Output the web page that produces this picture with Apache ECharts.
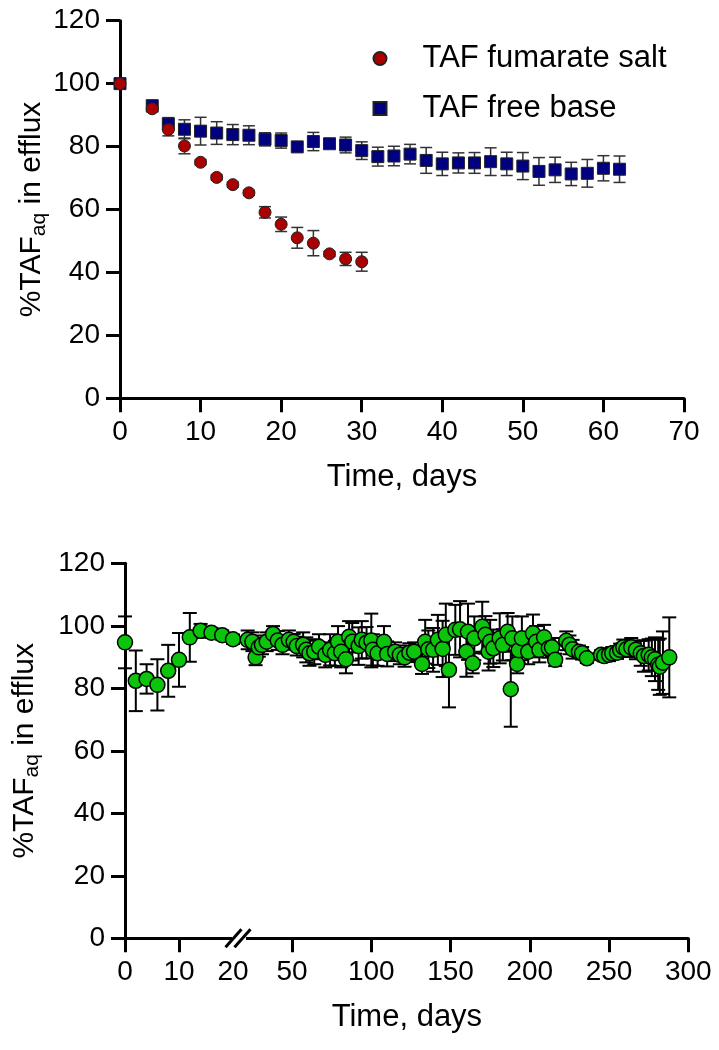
<!DOCTYPE html>
<html>
<head>
<meta charset="utf-8">
<script src="https://cdn.jsdelivr.net/npm/echarts@6/dist/echarts.min.js"></script>
<style>html,body{margin:0;padding:0;background:#fff;}#c{width:719px;height:1050px;}</style>
</head>
<body>
<div id="c"></div>
<script>
// ---- Top panel data ----
const saltDays = [0,4,6,8,10,12,14,16,18,20,22,24,26,28,30];
const saltMean = [100,92.0,85.4,80.2,75.0,70.2,67.9,65.3,59.1,55.3,51.0,49.3,45.9,44.3,43.4];
const saltErr  = [0.5,1.0,2.0,2.5,0.8,0.8,0.8,0.8,1.8,2.3,3.3,4.0,0.8,2.1,3.0];

const baseDays = [0,4,6,8,10,12,14,16,18,20,22,24,26,28,30,32,34,36,38,40,42,44,46,48,50,52,54,56,58,60,62];
const baseMean = [100,93.0,87.2,85.5,84.9,84.3,83.8,83.6,82.3,81.9,79.9,81.6,80.9,80.5,78.7,76.8,77.0,77.6,75.6,74.5,74.8,74.8,75.2,74.5,73.8,72.1,72.6,71.3,71.5,73.1,72.8];
const baseErr  = [0.5,1.0,2.0,3.0,4.4,3.6,3.2,3.0,2.1,2.4,0.8,2.9,1.5,2.5,2.8,3.0,3.1,3.1,4.1,3.7,3.2,3.3,4.4,3.7,4.3,4.4,4.0,3.7,4.4,4.0,4.2];

// ---- Bottom panel data ----
const longDays = [0,2,4,6,8,10,12,14,16,18,20,
  22,25,27,29,31,34,38,41,44,48,51,53,57,59,61,64,67,71,74,77,79,81,84,86,88,92,94,97,100,101,
  104,108,110,115,118,121,124,127,132,134,136,139,142,145,147,149,153,156,160,161,164,165,170,172,
  174,175,177,181,183,186,188,189,192,193,195,199,202,204,206,209,212,214,216,223,225,227,231,233,236,
  245,247,250,252,255,257,259,261,264,267,270,272,275,277,279,281,282,284,288];
const longMean = [94.7,82.4,83.0,81.1,85.6,89.1,96.3,98.4,97.8,97.0,95.7,
  95.5,94.9,89.9,93.1,93.9,94.9,97.4,95.3,93.9,95.5,94.9,93.5,93.9,92.3,91.2,91.7,93.3,90.7,92.3,91.2,94.9,91.7,89.3,96.5,94.9,93.5,95.5,94.6,95.3,92.3,
  91.2,94.9,91.0,91.7,90.7,89.9,91.4,91.7,87.8,94.9,92.5,92.3,95.5,92.6,97.1,85.9,98.7,98.9,91.7,98.1,88.0,96.0,99.7,97.1,
  91.7,94.9,92.8,96.0,93.9,98.1,79.7,96.0,87.8,92.2,96.0,91.7,97.6,94.9,92.3,96.3,92.8,93.1,89.1,95.2,93.9,92.5,91.7,91.2,89.6,
  90.7,90.3,90.7,91.2,91.4,92.3,93.1,92.5,93.1,92.3,91.2,90.3,90.7,89.9,89.3,87.5,86.9,88.2,89.9];
const longErr = [8.3,9.7,4.7,8.2,8.3,8.6,7.8,2.2,1.5,1.5,1.5,
  3,3,2.5,3,3,3,2.5,3,3,3,2.5,3,4,4,4,4,4,4,5,4,5,5,4.5,5,6,6,6,5,8.6,5,
  4,5,4,3,3,3,3,3,3.2,7,6,7,8,9,10,12,8,9,8,9,3.2,7,8,6,
  6,7,6,8,5,6,12,7,3,4,7,4,6,5,4,4,3,3,2,3,3,3,2,2,1.5,
  1.5,1.5,2,2,2,2,2.5,2.5,3,3,4,5,5,6,7,8,9,10,12.8];

const yTicks = [0,20,40,60,80,100,120];
const topXTicks = [0,10,20,30,40,50,60,70];
const longTicksA = [0,10];
const longLabelsA = [0,10,20];
const longTicksB = [50,100,150,200,250,300];

const FONT = "'Liberation Sans', Arial, sans-serif";

function zip3(a,b,c){ return a.map((v,i)=>[v,b[i],c[i]]); }

function errRender(capW, color, lw){
  return function(params, api){
    const x = api.value(0), m = api.value(1), e = api.value(2);
    const t = api.coord([x, m + e]);
    const b = api.coord([x, m - e]);
    const style = {stroke: color, lineWidth: lw};
    return {type:'group', children:[
      {type:'line', shape:{x1:t[0],y1:t[1],x2:b[0],y2:b[1]}, style},
      {type:'line', shape:{x1:t[0]-capW/2,y1:t[1],x2:t[0]+capW/2,y2:t[1]}, style},
      {type:'line', shape:{x1:b[0]-capW/2,y1:b[1],x2:b[0]+capW/2,y2:b[1]}, style}
    ]};
  };
}

const axisCommon = {
  axisLine:{show:true, lineStyle:{color:'#000', width:3}},
  axisTick:{show:true, inside:false, length:14, lineStyle:{color:'#000', width:3}},
  axisLabel:{color:'#000', fontSize:28, fontFamily:FONT, margin:20},
  splitLine:{show:false}
};

const yName = '{a|%TAF}{s|aq}{a| in efflux}';
const yNameStyle = {
  rich:{
    a:{fontSize:30, fontFamily:FONT, color:'#000', lineHeight:36, verticalAlign:'middle'},
    s:{fontSize:21, fontFamily:FONT, color:'#000', lineHeight:20, verticalAlign:'bottom', padding:[12,0,0,0]}
  }
};
const xNameStyle = {fontSize:31, fontFamily:FONT, color:'#000'};

const longAll = zip3(longDays, longMean, longErr);
const longA = longAll.filter(d => d[0] <= 20);
const longB = longAll.filter(d => d[0] > 20);

const option = {
  animation:false,
  backgroundColor:'#fff',
  legend:{
    orient:'vertical', left:367.5, top:38,
    itemWidth:13, itemHeight:13, itemGap:19,
    textStyle:{fontSize:31, fontFamily:FONT, color:'#000', padding:[0,0,0,31]},
    data:[{name:'TAF fumarate salt', icon:'circle'},{name:'TAF free base', icon:'rect'}]
  },
  grid:[
    {left:120, right:35, top:20.7, bottom:651.7, containLabel:false},
    {left:125, width:108, top:563.3, bottom:111.7, containLabel:false},
    {left:244.5, width:443.8, top:563.3, bottom:111.7, containLabel:false}
  ],
  xAxis:[
    Object.assign({}, axisCommon, {gridIndex:0, type:'value', min:topXTicks[0], max:topXTicks[topXTicks.length-1], interval:10,
      name:'Time, days', nameLocation:'middle', nameGap:64, nameMoveOverlap:false, nameTextStyle:xNameStyle}),
    Object.assign({}, axisCommon, {gridIndex:1, type:'value', min:0, max:20,
      axisTick:Object.assign({}, axisCommon.axisTick, {customValues:longTicksA}),
      axisLabel:Object.assign({}, axisCommon.axisLabel, {customValues:longLabelsA})}),
    Object.assign({}, axisCommon, {gridIndex:2, type:'value', min:20, max:300,
      axisTick:Object.assign({}, axisCommon.axisTick, {customValues:longTicksB}),
      axisLabel:Object.assign({}, axisCommon.axisLabel, {customValues:longTicksB}),
      name:'Time, days', nameLocation:'middle', nameGap:64, nameMoveOverlap:false,
      nameTextStyle:Object.assign({}, xNameStyle, {padding:[0,119,0,0]})})
  ],
  yAxis:[
    Object.assign({}, axisCommon, {gridIndex:0, type:'value', min:yTicks[0], max:yTicks[yTicks.length-1], interval:20,
      name:yName, nameLocation:'middle', nameGap:70, nameMoveOverlap:false, nameRotate:90, nameTextStyle:yNameStyle}),
    Object.assign({}, axisCommon, {gridIndex:1, type:'value', min:yTicks[0], max:yTicks[yTicks.length-1], interval:20,
      name:yName, nameLocation:'middle', nameGap:82, nameMoveOverlap:false, nameRotate:90, nameTextStyle:yNameStyle}),
    {gridIndex:2, type:'value', min:0, max:120, show:false}
  ],
  series:[
    {type:'custom', name:'errBase', xAxisIndex:0, yAxisIndex:0, data:zip3(baseDays, baseMean, baseErr),
      renderItem:errRender(12,'#333',1.5), encode:{x:0,y:1}, z:1, clip:false},
    {type:'custom', name:'errSalt', xAxisIndex:0, yAxisIndex:0, data:zip3(saltDays, saltMean, saltErr),
      renderItem:errRender(12,'#333',1.5), encode:{x:0,y:1}, z:1, clip:false},
    {type:'scatter', name:'TAF free base', xAxisIndex:0, yAxisIndex:0, symbol:'rect', symbolSize:12, clip:false,
      data:baseDays.map((d,i)=>[d, baseMean[i]]),
      itemStyle:{color:'#000080', borderColor:'#222', borderWidth:1, opacity:1}, z:3},
    {type:'scatter', name:'TAF fumarate salt', xAxisIndex:0, yAxisIndex:0, symbol:'circle', symbolSize:12, clip:false,
      data:saltDays.map((d,i)=>[d, saltMean[i]]),
      itemStyle:{color:'#AA0000', borderColor:'#222', borderWidth:1, opacity:1}, z:4},
    {type:'custom', name:'errA', xAxisIndex:1, yAxisIndex:1, data:longA,
      renderItem:errRender(14,'#000',2), encode:{x:0,y:1}, z:1, clip:false},
    {type:'custom', name:'errB', xAxisIndex:2, yAxisIndex:2, data:longB,
      renderItem:errRender(14,'#000',2), encode:{x:0,y:1}, z:1, clip:false},
    {type:'scatter', name:'longA', xAxisIndex:1, yAxisIndex:1, symbol:'circle', symbolSize:15, clip:false,
      data:longA.map(d=>[d[0],d[1]]),
      itemStyle:{color:'#0CC40C', borderColor:'#000', borderWidth:1.5, opacity:1}, z:3},
    {type:'scatter', name:'longB', xAxisIndex:2, yAxisIndex:2, symbol:'circle', symbolSize:15, clip:false,
      data:longB.map(d=>[d[0],d[1]]),
      itemStyle:{color:'#0CC40C', borderColor:'#000', borderWidth:1.5, opacity:1}, z:3}
  ]
};

const chart = echarts.init(document.getElementById('c'), null, {renderer:'canvas'});
chart.setOption(option);

// axis-break marks between the two bottom segments
const pEnd = chart.convertToPixel({xAxisIndex:1, yAxisIndex:1}, [20, 0]);
const slash = (cx, cy) => ({type:'line', shape:{x1:cx-8, y1:cy+9, x2:cx+8, y2:cy-9},
  style:{stroke:'#000', lineWidth:3}, z:10});
chart.setOption({graphic:[
  {type:'rect', shape:{x:pEnd[0]-1, y:pEnd[1]-3, width:14, height:6}, style:{fill:'#fff'}, z:9},
  slash(pEnd[0]+0.5, pEnd[1]),
  slash(pEnd[0]+9.5, pEnd[1])
]});
</script>
</body>
</html>
